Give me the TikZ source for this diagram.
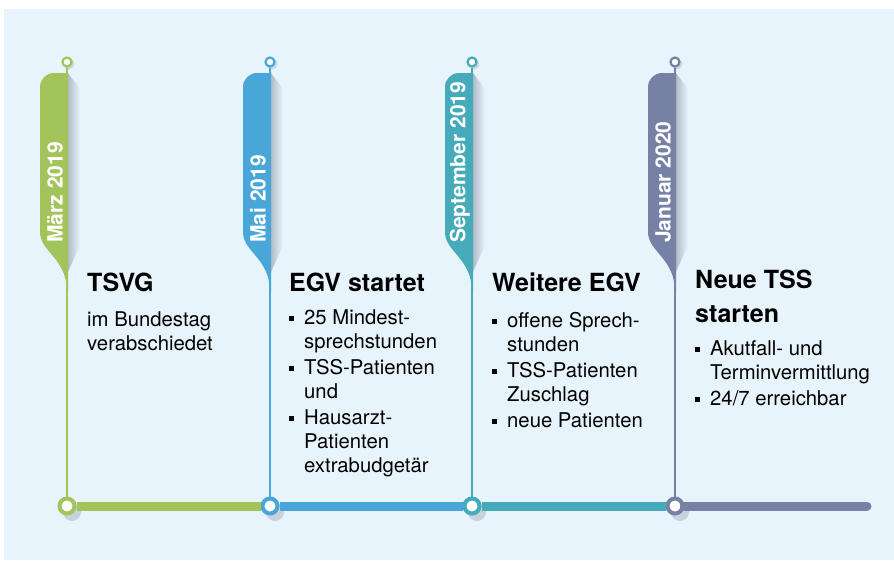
\documentclass[tikz,border=0pt]{standalone}
\usepackage{fontspec}
\setmainfont{TeX Gyre Heros}
\definecolor{tlgreen}{RGB}{163,196,90}
\definecolor{tlblue}{RGB}{72,166,217}
\definecolor{tlteal}{RGB}{69,170,185}
\definecolor{tlslate}{RGB}{118,129,165}
\definecolor{tlback}{RGB}{232,244,252}
\definecolor{tlshadow}{RGB}{178,188,200}
\newcommand{\bul}{\rule[3.2pt]{4.8pt}{4.8pt}}
\tikzset{
  ringtop/.style = {circle, draw=#1, fill=white, line width=2.2pt, minimum size=9pt, inner sep=0pt},
  ringbot/.style = {circle, draw=#1, fill=white, line width=4pt, minimum size=15pt, inner sep=0pt},
  datum/.style = {rotate=90, anchor=west, inner sep=0pt, text=white, font=\fontsize{21}{21}\selectfont\bfseries},
  headline/.style = {anchor=base west, inner sep=0pt, font=\fontsize{25}{34}\selectfont\bfseries},
  bodytext/.style = {anchor=base west, inner sep=0pt, font=\fontsize{20.3}{24}\selectfont}
}

\begin{document}
\begin{tikzpicture}[x=1pt, y=-1pt]
\useasboundingbox (0,0) rectangle (894,560);
\fill[tlback] (4,9) rectangle (894,560);

% flags, their shadows and the dates
\foreach \x/\col/\date [count=\n] in {67/tlgreen/März 2019, 270/tlblue/Mai 2019, 472/tlteal/September 2019, 675/tlslate/Januar 2020}{
  \shade[left color=tlshadow, right color=tlback] (\x+1,73) -- (\x+13,89) -- (\x+13,245) -- (\x+1,272) -- cycle;
  \fill[\col] (\x+1,73) -- (\x-13,73) arc[start angle=90, end angle=180, radius=14pt]
     -- (\x-27,232) .. controls (\x-27,252) and (\x,258) .. (\x,292) -- (\x+1,292) -- cycle;
  \node[datum] (d\n) at (\x-12,243) {\date};
}

% rings and stems
\foreach \x/\col [count=\n] in {67/tlgreen, 270/tlblue, 472/tlteal, 675/tlslate}{
  \fill[tlshadow, opacity=.5] (\x+2,64) circle (5.5pt);
  \fill[tlshadow, opacity=.6] (\x+5,512) circle (9pt);
  \node[ringtop=\col] (t\n) at (\x,62) {};
  \node[ringbot=\col] (b\n) at (\x,506) {};
  \draw[\col, line width=2pt] (t\n) -- (b\n);
}

% time axis
\coordinate (e) at (867,506);
\draw[tlgreen, line width=9pt] (b1) -- (b2);
\draw[tlblue, line width=9pt] (b2) -- (b3);
\draw[tlteal, line width=9pt] (b3) -- (b4);
\draw[tlslate, line width=9pt, line cap=round] (b4) -- (e);

% texts
\node[headline] (h1) at (87,291) {TSVG};
\node[bodytext] (p1) at (87,326) {\begin{tabular}[t]{@{}l@{}}im Bundestag\\ verabschiedet\end{tabular}};

\node[headline] (h2) at (289,291) {EGV startet};
\node[bodytext] (p2) at (289,324) {\begin{tabular}[t]{@{}l@{\hspace{10.2pt}}l@{}}
  \bul & 25 Mindest-\\ & sprechstunden\\[2pt]
  \bul & TSS-Patienten\\ & und\\[2pt]
  \bul & Hausarzt-\\ & Patienten\\ & extrabudgetär
\end{tabular}};

\node[headline] (h3) at (492,291) {Weitere EGV};
\node[bodytext] (p3) at (492,327) {\begin{tabular}[t]{@{}l@{\hspace{10.2pt}}l@{}}
  \bul & offene Sprech-\\ & stunden\\[2pt]
  \bul & TSS-Patienten\\ & Zuschlag\\[2pt]
  \bul & neue Patienten
\end{tabular}};

\node[headline] (h4) at (695,288) {\begin{tabular}[t]{@{}l@{}}Neue TSS\\ starten\end{tabular}};
\node[bodytext] (p4) at (695,355) {\begin{tabular}[t]{@{}l@{\hspace{10.2pt}}l@{}}
  \bul & Akutfall- und\\ & Terminvermittlung\\[2pt]
  \bul & 24/7 erreichbar
\end{tabular}};
\end{tikzpicture}
\end{document}
